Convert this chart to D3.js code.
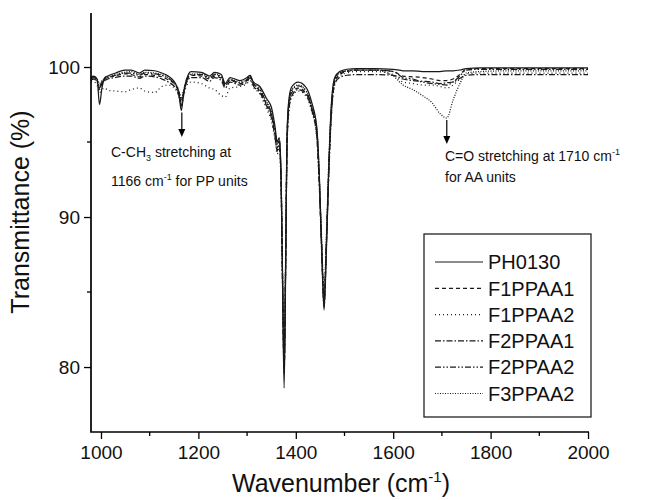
<!DOCTYPE html>
<html>
<head>
<meta charset="utf-8">
<script src="https://cdn.jsdelivr.net/npm/d3@7"></script>
<style>
  body { margin: 0; background: #fff; }
  svg { display: block; font-family: "Liberation Sans", Arial, sans-serif; }
</style>
</head>
<body>
<div id="chart"></div>
<script>
// wavenumber grid (cm-1), shared by all series
var wavenumber = [979, 985, 992, 997, 1002, 1008, 1014, 1030, 1049, 1062, 1079, 1090, 1110, 1125, 1138, 1153, 1160, 1165, 1170, 1175,
  1185, 1206, 1223, 1233, 1247, 1255, 1265, 1285, 1300, 1306, 1312, 1326, 1340, 1350, 1357, 1362, 1366, 1370, 1373, 1376,
  1379, 1382, 1386, 1392, 1405, 1422, 1433, 1443, 1448, 1453, 1458, 1463, 1468, 1473, 1480, 1490, 1505, 1525, 1560, 1600,
  1620, 1640, 1660, 1680, 1696, 1710, 1723, 1737, 1750, 1780, 1850, 1920, 2000];

var PH0130 = [99.35, 99.4, 99.2, 97.5, 98.6, 99.3, 99.4, 99.6, 99.8, 99.8, 99.6, 99.8, 99.75, 99.6, 99.4, 98.9, 98.2, 97.1, 98.3, 99.1,
  99.7, 99.65, 99.4, 99.65, 99.5, 98.9, 99.3, 99.1, 99.3, 99.45, 99.05, 98.7, 97.9, 97.3, 96.1, 95.0, 95.3, 92.5, 85, 78.6,
  86, 95.5, 97.9, 98.7, 99.0, 98.6, 97.6, 96.0, 93, 88, 83.8, 88, 93.5, 97.5, 99.3, 99.7, 99.85, 99.9, 99.9, 99.85,
  99.75, 99.75, 99.7, 99.7, 99.7, 99.75, 99.75, 99.8, 99.9, 99.95, 99.95, 99.95, 99.95];

var F1PPAA1 = [99.2, 99.3, 99.1, 98.5, 98.9, 99.2, 99.3, 99.4, 99.55, 99.5, 99.35, 99.5, 99.45, 99.35, 99.15, 98.8, 98.4, 97.6, 98.4, 99.0,
  99.45, 99.4, 99.2, 99.4, 99.25, 98.8, 99.1, 98.9, 99.1, 99.4, 98.9, 98.4, 97.5, 96.8, 95.6, 94.6, 95.0, 92, 85.5, 79.6,
  86.5, 95, 97.4, 98.3, 98.6, 98.2, 97.2, 95.6, 92.5, 88, 84.3, 88.5, 93.5, 97, 99.0, 99.5, 99.7, 99.8, 99.8, 99.7,
  99.4, 99.35, 99.3, 99.2, 99.1, 99.1, 99.2, 99.5, 99.85, 99.9, 99.9, 99.9, 99.9];

var F1PPAA2 = [99.0, 99.0, 98.8, 98.3, 98.5, 98.6, 98.45, 98.4, 98.35, 98.5, 98.6, 98.4, 98.3, 98.7, 98.8, 98.5, 98.0, 97.5, 98.1, 98.7,
  99.0, 98.9, 98.6, 98.5, 98.1, 98.0, 98.6, 98.7, 98.9, 99.1, 98.7, 98.2, 97.2, 96.4, 95.2, 94.2, 94.6, 91.5, 85, 80.3,
  86.5, 94.5, 97.0, 98.0, 98.4, 98.0, 97.0, 95.3, 92.5, 88.5, 84.8, 88.5, 93, 96.6, 98.8, 99.4, 99.6, 99.7, 99.7, 99.5,
  99.0, 98.9, 98.8, 98.8, 98.7, 98.6, 98.8, 99.2, 99.55, 99.6, 99.6, 99.6, 99.6];

var F2PPAA1 = [99.1, 99.2, 99.0, 98.6, 98.9, 99.1, 99.2, 99.3, 99.4, 99.4, 99.25, 99.4, 99.35, 99.2, 99.0, 98.6, 98.1, 97.4, 98.2, 98.9,
  99.3, 99.3, 99.05, 99.3, 99.1, 98.6, 99.0, 98.8, 99.0, 99.3, 98.8, 98.3, 97.4, 96.6, 95.4, 94.4, 94.8, 91.8, 85.2, 79.9,
  86.4, 94.8, 97.2, 98.1, 98.5, 98.1, 97.1, 95.4, 92.3, 87.8, 84.0, 88.2, 93.2, 96.8, 98.9, 99.3, 99.45, 99.5, 99.5, 99.45,
  99.2, 99.1, 99.05, 99.0, 98.9, 98.95, 99.0, 99.25, 99.45, 99.5, 99.5, 99.5, 99.5];

var F2PPAA2 = [99.25, 99.3, 99.15, 98.7, 99.0, 99.2, 99.3, 99.45, 99.6, 99.6, 99.45, 99.6, 99.55, 99.45, 99.25, 98.8, 98.3, 97.8, 98.4, 99.0,
  99.5, 99.5, 99.25, 99.5, 99.3, 98.75, 99.15, 98.95, 99.15, 99.45, 98.95, 98.5, 97.6, 96.9, 95.8, 94.8, 95.1, 92.2, 85.6, 80.0,
  86.6, 95.2, 97.6, 98.45, 98.75, 98.35, 97.3, 95.8, 92.8, 88.2, 84.5, 88.6, 93.6, 97.2, 99.1, 99.6, 99.75, 99.8, 99.8, 99.7,
  99.3, 99.2, 99.0, 98.9, 98.85, 98.8, 99.0, 99.4, 99.8, 99.85, 99.85, 99.85, 99.85];

var F3PPAA2 = [99.3, 99.35, 99.2, 98.9, 99.1, 99.25, 99.35, 99.5, 99.65, 99.7, 99.5, 99.65, 99.6, 99.5, 99.3, 98.9, 98.4, 97.9, 98.5, 99.1,
  99.55, 99.55, 99.3, 99.55, 99.35, 98.85, 99.2, 99.0, 99.2, 99.4, 99.0, 98.6, 97.7, 97.0, 95.9, 94.9, 95.2, 92.3, 86, 81.0,
  87, 95.3, 97.7, 98.5, 98.8, 98.4, 97.4, 95.9, 93, 88.6, 85.0, 89, 94, 97.4, 99.2, 99.6, 99.75, 99.8, 99.8, 99.4,
  98.8, 98.5, 98.1, 97.6, 96.9, 96.6, 97.8, 98.9, 99.6, 99.7, 99.75, 99.75, 99.75];

var seriesNames = ["PH0130", "F1PPAA1", "F1PPAA2", "F2PPAA1", "F2PPAA2", "F3PPAA2"];
var seriesValues = [PH0130, F1PPAA1, F1PPAA2, F2PPAA1, F2PPAA2, F3PPAA2];
var seriesDash = ["none", "4,3", "1,3", "6,2,1.5,2", "6,2,1.5,2,1.5,2", "1,1.5"];

var xTicks = [1000, 1200, 1400, 1600, 1800, 2000];
var xMinorTicks = [1100, 1300, 1500, 1700, 1900];
var yTicks = [80, 90, 100];
var yMinorTicks = [85, 95];

var width = 648, height = 500;
var plotLeft = 91, plotRight = 589, plotTop = 13, plotBottom = 432;

var svg = d3.select("#chart").append("svg")
    .attr("width", width)
    .attr("height", height);

var x = d3.scaleLinear().domain([979.5, 2002]).range([plotLeft, plotRight]);
var y = d3.scaleLinear().domain([75.67, 103.6]).range([plotBottom, plotTop]);

var line = d3.line()
    .x(function(d) { return x(d[0]); })
    .y(function(d) { return y(d[1]); })
    .curve(d3.curveMonotoneX);

// spectra
seriesValues.forEach(function(vals, i) {
    svg.append("path")
        .datum(wavenumber.map(function(w, j) { return [w, vals[j]]; }))
        .attr("fill", "none")
        .attr("stroke", "#1a1a1a")
        .attr("stroke-width", 1.25)
        .attr("stroke-dasharray", seriesDash[i])
        .attr("d", line);
});

// axes
var xAxis = svg.append("g").attr("transform", "translate(0," + plotBottom + ")");
xAxis.call(d3.axisBottom(x).tickValues(xTicks).tickSize(7).tickFormat(d3.format("d")));
xAxis.selectAll(".minor").data(xMinorTicks).enter().append("line")
    .attr("class", "minor")
    .attr("x1", function(d) { return x(d); })
    .attr("x2", function(d) { return x(d); })
    .attr("y1", 0).attr("y2", 4)
    .attr("stroke", "#000").attr("stroke-width", 1.3);

var yAxis = svg.append("g").attr("transform", "translate(" + plotLeft + ",0)");
yAxis.call(d3.axisLeft(y).tickValues(yTicks).tickSize(7));
yAxis.selectAll(".minor").data(yMinorTicks).enter().append("line")
    .attr("class", "minor")
    .attr("y1", function(d) { return y(d); })
    .attr("y2", function(d) { return y(d); })
    .attr("x1", 0).attr("x2", -4)
    .attr("stroke", "#000").attr("stroke-width", 1.3);

xAxis.select(".domain").remove();
yAxis.select(".domain").remove();
svg.append("path")
    .attr("d", "M" + plotLeft + "," + plotTop + "V" + plotBottom + "H" + plotRight)
    .attr("fill", "none")
    .attr("stroke", "#000")
    .attr("stroke-width", 1.7);

svg.selectAll(".tick line").attr("stroke", "#000").attr("stroke-width", 1.3);
svg.selectAll(".tick text")
    .attr("fill", "#111")
    .style("font-size", "19px")
    .style("font-family", "'Liberation Sans', Arial, sans-serif");
xAxis.selectAll(".tick text").attr("dy", "0.95em").attr("y", 9);
yAxis.selectAll(".tick text").attr("x", -11);

// axis titles
var xt = svg.append("text")
    .attr("x", 341).attr("y", 492)
    .attr("text-anchor", "middle")
    .style("font-size", "25px")
    .attr("fill", "#111");
xt.append("tspan").text("Wavenumber (cm");
xt.append("tspan").attr("dy", -10).style("font-size", "15px").text("-1");
xt.append("tspan").attr("dy", 10).text(")");

svg.append("text")
    .attr("transform", "translate(29,212) rotate(-90)")
    .attr("text-anchor", "middle")
    .style("font-size", "25px")
    .attr("fill", "#111")
    .text("Transmittance (%)");

// annotations
var arrowWn = [1166, 1710];
var arrowTipY = [137, 144];
var arrowFrom = [PH0130[17], F3PPAA2[65]];
arrowWn.forEach(function(w, i) {
    var ax = x(w);
    svg.append("line")
        .attr("x1", ax).attr("x2", ax)
        .attr("y1", y(arrowFrom[i]) + 2).attr("y2", arrowTipY[i] - 6)
        .attr("stroke", "#000").attr("stroke-width", 1.2);
    svg.append("path")
        .attr("d", "M" + (ax - 3.5) + "," + (arrowTipY[i] - 8) + "L" + (ax + 3.5) + "," + (arrowTipY[i] - 8) + "L" + ax + "," + arrowTipY[i] + "Z")
        .attr("fill", "#000");
});

var a1 = svg.append("text").attr("x", 111).attr("y", 157).style("font-size", "14px").attr("fill", "#111");
a1.append("tspan").text("C-CH");
a1.append("tspan").attr("dy", 4).style("font-size", "9px").text("3");
a1.append("tspan").attr("dy", -4).text(" stretching at");
var a2 = svg.append("text").attr("x", 111).attr("y", 186).style("font-size", "14px").attr("fill", "#111");
a2.append("tspan").text("1166 cm");
a2.append("tspan").attr("dy", -6).style("font-size", "9px").text("-1");
a2.append("tspan").attr("dy", 6).text(" for PP units");

var a3 = svg.append("text").attr("x", 445).attr("y", 161).style("font-size", "14px").attr("fill", "#111");
a3.append("tspan").text("C=O stretching at 1710 cm");
a3.append("tspan").attr("dy", -6).style("font-size", "9px").text("-1");
svg.append("text").attr("x", 445).attr("y", 182).style("font-size", "14px").attr("fill", "#111")
    .text("for AA units");

// legend
var legend = svg.append("g");
legend.append("rect")
    .attr("x", 424).attr("y", 234)
    .attr("width", 167).attr("height", 183)
    .attr("fill", "#fff")
    .attr("stroke", "#222").attr("stroke-width", 1.3);
seriesNames.forEach(function(name, i) {
    var ly = 262 + i * 26.3;
    legend.append("line")
        .attr("x1", 435).attr("x2", 483)
        .attr("y1", ly).attr("y2", ly)
        .attr("stroke", "#1a1a1a").attr("stroke-width", 1.2)
        .attr("stroke-dasharray", seriesDash[i]);
    legend.append("text")
        .attr("x", 488).attr("y", ly)
        .attr("dy", "0.36em")
        .style("font-size", "20px")
        .attr("fill", "#111")
        .text(name);
});
</script>
</body>
</html>
